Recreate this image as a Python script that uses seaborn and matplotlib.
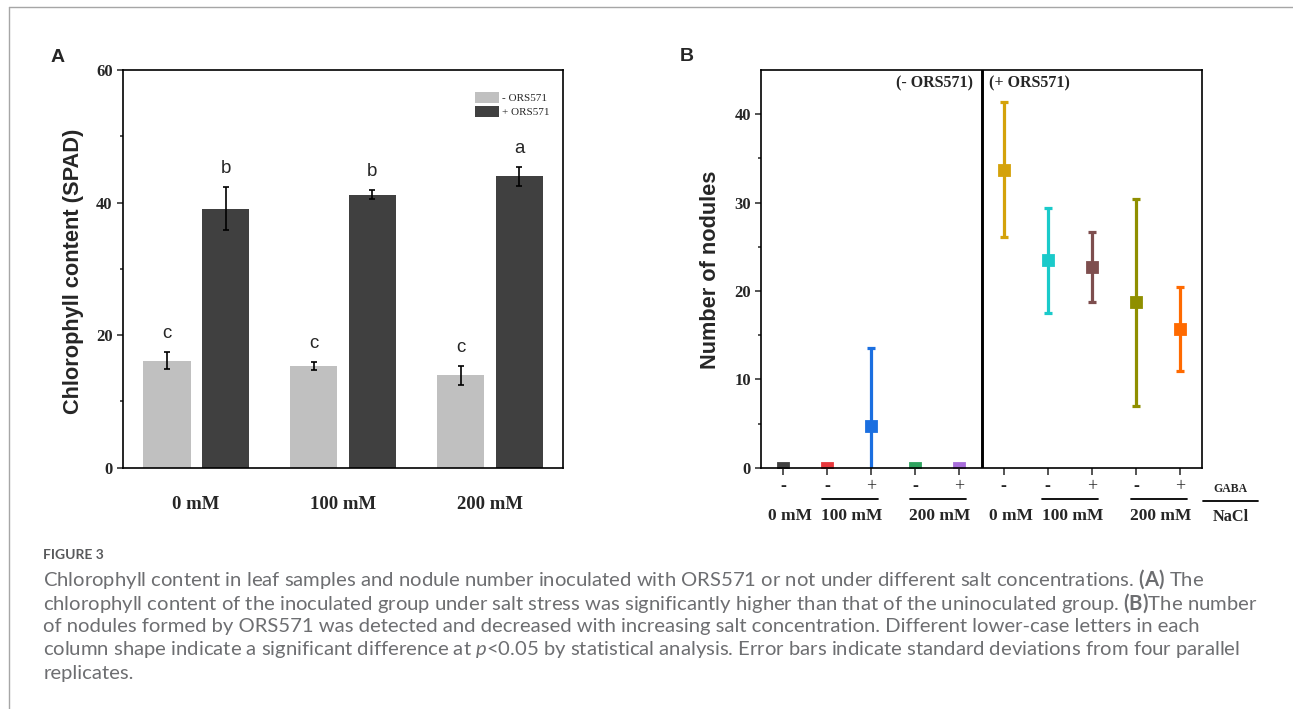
import matplotlib
matplotlib.use("Agg")
import matplotlib.pyplot as plt
import matplotlib.transforms as mtransforms
from matplotlib.lines import Line2D
import numpy as np
import pandas as pd
import seaborn as sns

# ---- panel A data: chlorophyll (SPAD)
salt = ["0 mM", "100 mM", "200 mM"]
chl_minus = [16.15, 15.35, 13.95]
sd_minus = [1.26, 0.60, 1.45]
chl_plus = [39.1, 41.2, 43.95]
sd_plus = [3.25, 0.65, 1.45]
letters_minus = ["c", "c", "c"]
letters_plus = ["b", "b", "a"]
groups = ["- ORS571", "+ ORS571"]

# ---- panel B data: number of nodules
conditions = ["-0-", "-100-", "-100+", "-200-", "-200+",
              "+0-", "+100-", "+100+", "+200-", "+200+"]
nod_mean = [0, 0, 4.75, 0, 0, 33.7, 23.45, 22.7, 18.7, 15.7]
nod_sd = [0, 0, 8.75, 0, 0, 7.63, 5.9, 3.98, 11.7, 4.77]
gaba_signs = ["-", "-", "+", "-", "+", "-", "-", "+", "-", "+"]
nacl_labels = ["0 mM", "100 mM", "200 mM", "0 mM", "100 mM", "200 mM"]
nacl_members = [[0], [1, 2], [3, 4], [5], [6, 7], [8, 9]]
nod_colors = ["#404040", "#e8373c", "#1b6fe0", "#2ea35e", "#a86ddb",
              "#d4a20b", "#1acaca", "#7e4e4e", "#8f8f00", "#ff6a00"]

caption_title = "FIGURE 3"
caption_lines = [
    r"Chlorophyll content in leaf samples and nodule number inoculated with ORS571 or not under different salt concentrations. $\mathbf{(A)}$ The",
    r"chlorophyll content of the inoculated group under salt stress was significantly higher than that of the uninoculated group. $\mathbf{(B)}$The number",
    r"of nodules formed by ORS571 was detected and decreased with increasing salt concentration. Different lower-case letters in each",
    r"column shape indicate a significant difference at $\mathit{p}$<0.05 by statistical analysis. Error bars indicate standard deviations from four parallel",
    r"replicates.",
]

sns.set_theme(style="ticks")
plt.rcParams["font.family"] = ["Liberation Serif", "DejaVu Sans"]
plt.rcParams["mathtext.fontset"] = "custom"
plt.rcParams["mathtext.bf"] = "Lato:bold"
plt.rcParams["mathtext.it"] = "Lato:italic"
plt.rcParams["mathtext.rm"] = "Lato"

W, H = 1293, 709
fig = plt.figure(figsize=(W / 100, H / 100), dpi=100)


def px_axes(l, t, r, b):
    return fig.add_axes([l / W, 1 - b / H, (r - l) / W, (b - t) / H])


def fy(py):
    return 1 - py / H


axA = px_axes(122.7, 70, 563.4, 467.7)
axB = px_axes(761, 70, 1202, 467.7)

sans = "Liberation Sans"
serif = "Liberation Serif"

# ================= Panel A =================
dfA = pd.DataFrame({
    "salt": salt * 2,
    "group": [groups[0]] * 3 + [groups[1]] * 3,
    "chl": chl_minus + chl_plus,
})
sns.barplot(data=dfA, x="salt", y="chl", hue="group", hue_order=groups,
            palette={groups[0]: "#c0c0c0", groups[1]: "#404040"},
            saturation=1, errorbar=None, width=0.8, gap=0.19,
            linewidth=0, ax=axA)

for cont, sds, lets in zip(axA.containers, [sd_minus, sd_plus],
                           [letters_minus, letters_plus]):
    for bar, sd, let in zip(cont, sds, lets):
        x = bar.get_x() + bar.get_width() / 2
        h = bar.get_height()
        axA.errorbar(x, h, yerr=sd, fmt="none", ecolor="black",
                     elinewidth=1.2, capsize=2.5, capthick=1.2)
        axA.annotate(let, (x, h + sd), xytext=(0, 10), textcoords="offset points",
                     ha="center", va="baseline", fontsize=13.4, family=sans)

axA.set_ylim(0, 60)
axA.set_xlim(-0.5, 2.5)
axA.set_yticks([0, 20, 40, 60])
axA.set_yticks([10, 30, 50], minor=True)
axA.set_xlabel("")
axA.set_ylabel("Chlorophyll content (SPAD)", fontsize=15.7,
               fontweight="bold", family=sans)
axA.yaxis.set_label_coords(-0.088, 0.494)
axA.tick_params(axis="y", which="major", length=4.3, width=1.1, pad=3,
                labelsize=12)
axA.tick_params(axis="y", which="minor", length=2.5, width=1.1)
axA.tick_params(axis="x", length=0, pad=20.7, labelsize=13.5)
for lab in axA.get_xticklabels() + axA.get_yticklabels():
    lab.set_fontweight("bold")
for sp in axA.spines.values():
    sp.set_linewidth(1.2)
    sp.set_color("black")
leg = axA.legend(loc="upper left", bbox_to_anchor=(0.80, 0.945), frameon=False,
                 prop={"family": serif, "size": 8}, handlelength=2.16,
                 handleheight=1.17, handletextpad=0.27, labelspacing=0.24,
                 borderpad=0, borderaxespad=0)

fig.text(58 / W, fy(57), "A", fontsize=14, fontweight="bold", family=sans,
         ha="center", va="center")

# ================= Panel B =================
sns.pointplot(x=conditions, y=nod_mean, hue=conditions, palette=nod_colors,
              markers="s", linestyle="none", errorbar=None, legend=False,
              markersize=7.5, ax=axB)
for i, (m, s, c) in enumerate(zip(nod_mean, nod_sd, nod_colors)):
    if s > 0:
        axB.errorbar(i, m, yerr=s, fmt="none", ecolor=c, elinewidth=2.3,
                     capsize=2.8, capthick=2.3, zorder=1)

divider = len([c for c in conditions if c.startswith("-")]) - 0.5
axB.axvline(divider, color="black", lw=2.1)
axB.set_xlim(-0.5, len(conditions) - 0.5)
axB.set_ylim(0, 45)
axB.set_yticks([0, 10, 20, 30, 40])
axB.set_yticks([5, 15, 25, 35], minor=True)
axB.set_xticks(range(len(conditions)))
axB.set_xticklabels([""] * len(conditions))
axB.set_ylabel("Number of nodules", fontsize=15.7, fontweight="bold", family=sans)
axB.yaxis.set_label_coords(-0.090, 0.4965)
axB.tick_params(axis="y", which="major", length=4.3, width=1.1, pad=3,
                labelsize=12)
axB.tick_params(axis="y", which="minor", length=2.5, width=1.1)
axB.tick_params(axis="x", length=5, width=1.1)
for lab in axB.get_yticklabels():
    lab.set_fontweight("bold")
for sp in axB.spines.values():
    sp.set_linewidth(1.2)
    sp.set_color("black")

tB = mtransforms.blended_transform_factory(axB.transData, axB.transAxes)
axB.text(divider - 0.19, 0.967, "(- ORS571)", transform=tB, ha="right",
         va="center", fontsize=11.5, fontweight="bold")
axB.text(divider + 0.16, 0.967, "(+ ORS571)", transform=tB, ha="left",
         va="center", fontsize=11.5, fontweight="bold")

tBf = mtransforms.blended_transform_factory(axB.transData, fig.transFigure)
for i, sgn in enumerate(gaba_signs):
    fig.text(i, fy(486.7), sgn, transform=tBf, ha="center", va="center",
             fontsize=13, fontweight="bold" if sgn == "-" else "normal")
for lab, idx in zip(nacl_labels, nacl_members):
    mid = float(np.mean(idx))
    shift = 0.16 if len(idx) == 1 else 0.06
    fig.text(mid + shift, fy(516), lab, transform=tBf, ha="center",
             va="center", fontsize=12.5, fontweight="bold")
    if len(idx) > 1:
        fig.add_artist(Line2D([mid - 0.62, mid + 0.65], [fy(499.3)] * 2,
                              transform=tBf, color="black", lw=1.3))
xr = len(conditions) - 0.5
fig.text(xr + 0.64, fy(489.3), "GABA", transform=tBf, ha="center",
         va="center", fontsize=8.5, fontweight="bold")
fig.text(xr + 0.65, fy(516.7), "NaCl", transform=tBf, ha="center",
         va="center", fontsize=11.7, fontweight="bold")
fig.add_artist(Line2D([xr + 0.03, xr + 1.26], [fy(500.7)] * 2,
                      transform=tBf, color="black", lw=1.3))

fig.text(686.7 / W, fy(56.7), "B", fontsize=14, fontweight="bold", family=sans,
         ha="center", va="center")

# ================= frame & caption =================
fig.add_artist(Line2D([9.3 / W, 9.3 / W], [0, fy(6.7)], transform=fig.transFigure,
                      color="#a6a6a6", lw=1))
fig.add_artist(Line2D([9.3 / W, 1], [fy(6.7)] * 2, transform=fig.transFigure,
                      color="#a6a6a6", lw=1))

fig.text(43.3 / W, fy(555.3), caption_title, family="Lato", fontweight="bold",
         fontsize=10, color="#58595b", ha="left", va="center")
renderer = fig.canvas.get_renderer()
probe = fig.text(0, 0, caption_lines[0], family="Lato", fontsize=12)
cap_size = 12 * 1157 / probe.get_window_extent(renderer).width
probe.remove()
for k, line in enumerate(caption_lines):
    fig.text(43.3 / W, fy(579.3 + 23.5 * k), line, family="Lato",
             fontsize=cap_size, color="#6d6e71", ha="left", va="center")

fig.savefig("out.png", dpi=100)
